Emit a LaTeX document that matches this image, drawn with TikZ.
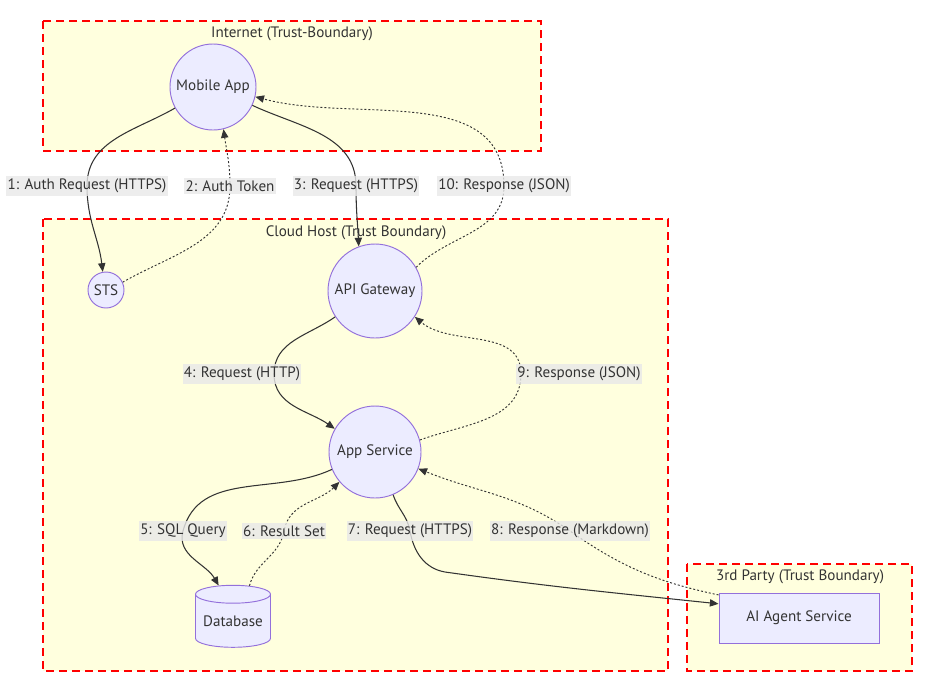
\documentclass[tikz,border=0pt]{standalone}
\usepackage{fontspec}
\setmainfont{PT Sans}
\usetikzlibrary{arrows.meta, positioning, shapes.geometric}
\definecolor{zonefill}{HTML}{FFFFDE}
\definecolor{nodefill}{HTML}{ECECFF}
\definecolor{nodeline}{HTML}{9370DB}
\definecolor{inktext}{HTML}{333333}
\definecolor{tagfill}{HTML}{E8E8E8}

\begin{document}
\begin{tikzpicture}[
    x=0.03cm, y=0.03cm,
    zone/.style={draw=red, fill=zonefill, line width=1.6pt,
                 dash pattern=on 0.24cm off 0.15cm},
    zonetitle/.style={text=inktext, font=\fontsize{12.9}{15}\selectfont, yshift=-0.05cm},
    svc/.style={circle, draw=nodeline, fill=nodefill, line width=0.8pt,
                text=inktext, font=\fontsize{12.9}{15}\selectfont, inner sep=0pt},
    tag/.style={fill=tagfill, fill opacity=0.8, text opacity=1, text=inktext,
                font=\fontsize{12.9}{15}\selectfont, inner xsep=1pt, inner ysep=2.5pt},
    req/.style={-{Triangle[length=0.26cm,width=0.22cm]}, draw=inktext,
                line width=0.9pt},
    resp/.style={req, line width=0.8pt, dash pattern=on 0.06cm off 0.06cm}
]
\useasboundingbox (0,0) rectangle (933,-692);

% trust boundaries
\draw[zone] (43,-21) rectangle (541,-151);
\draw[zone] (43,-219) rectangle (668,-671);
\draw[zone] (687,-564) rectangle (912,-671);
\node[zonetitle] (tinet) at (292,-32) {Internet (Trust-Boundary)};
\node[zonetitle] (tcloud) at (356,-231) {Cloud Host (Trust Boundary)};
\node[zonetitle] (tthird) at (800,-575) {3rd Party (Trust Boundary)};

% services
\node[svc, minimum size=2.58cm] (mob) at (213,-87) {Mobile App};
\node[svc, minimum size=1.08cm] (sts) at (106,-290) {STS};
\node[svc, minimum size=2.82cm] (api) at (375,-291) {API Gateway};
\node[svc, minimum size=2.76cm] (app) at (375,-452) {App Service};
\node[cylinder, shape border rotate=90, aspect=0.3, draw=nodeline, fill=nodefill,
      line width=0.8pt, text=inktext, font=\fontsize{12.9}{15}\selectfont,
      minimum width=2.25cm, minimum height=1.86cm, inner sep=0pt]
      (db) at (233,-621) {Database};
\node[draw=nodeline, fill=nodefill, line width=0.8pt, text=inktext,
      font=\fontsize{12.9}{15}\selectfont, minimum width=4.8cm, minimum height=1.5cm]
      (agent) at (799,-618) {AI Agent Service};

% label positions
\coordinate (l1) at (87,-186);
\coordinate (l2) at (230,-186);
\coordinate (l3) at (356,-186);
\coordinate (l10) at (504,-186);
\coordinate (l4) at (242,-374);
\coordinate (l9) at (579,-374);
\coordinate (l5) at (183,-531);
\coordinate (l6) at (284,-531);
\coordinate (l7) at (410,-531);
\coordinate (l8) at (570,-531);
\coordinate (w4) at (274,-374);
\coordinate (w9) at (521,-374);
\coordinate (w7) at (445,-572);

% flows
\draw[req] (mob.209) to[out=210, in=90] (l1) to[out=-90, in=97] (sts.100);
\draw[resp] (sts.25) to[out=30, in=-90] (l2) to[out=90, in=-82] (mob.-76);
\draw[req] (mob.-25) to[out=-25, in=90] (l3) to[out=-90, in=93] (api.110);
\draw[resp] (api.30) to[out=45, in=-90] (l10) to[out=90, in=-15] (mob.-13);
\draw[req] (api.213) to[out=215, in=90] (w4) to[out=-90, in=145] (app.150);
\draw[resp] (app.15) to[out=20, in=-90] (w9) to[out=90, in=-40] (api.-33);
\draw[req] (app.202) to[out=205, in=75] (l5) to[out=-105, in=120] (db.112);
\draw[resp] (db.65) to[out=75, in=-100] (l6) to[out=80, in=225] (app.220);
\draw[req] (app.-67) to[out=-72, in=100] (l7) to[out=-80, in=170] (w7)
    to[out=-8, in=174] (agent.170);
\draw[resp] (agent.164) to[out=168, in=-35] (l8) to[out=145, in=-22] (app.-21);

% flow labels
\node[tag] (t1) at (l1) {1: Auth Request (HTTPS)};
\node[tag] (t2) at (l2) {2: Auth Token};
\node[tag] (t3) at (l3) {3: Request (HTTPS)};
\node[tag] (t10) at (l10) {10: Response (JSON)};
\node[tag] (t4) at (l4) {4: Request (HTTP)};
\node[tag] (t9) at (l9) {9: Response (JSON)};
\node[tag] (t5) at (l5) {5: SQL Query};
\node[tag] (t6) at (l6) {6: Result Set};
\node[tag] (t7) at (l7) {7: Request (HTTPS)};
\node[tag] (t8) at (l8) {8: Response (Markdown)};
\end{tikzpicture}
\end{document}
